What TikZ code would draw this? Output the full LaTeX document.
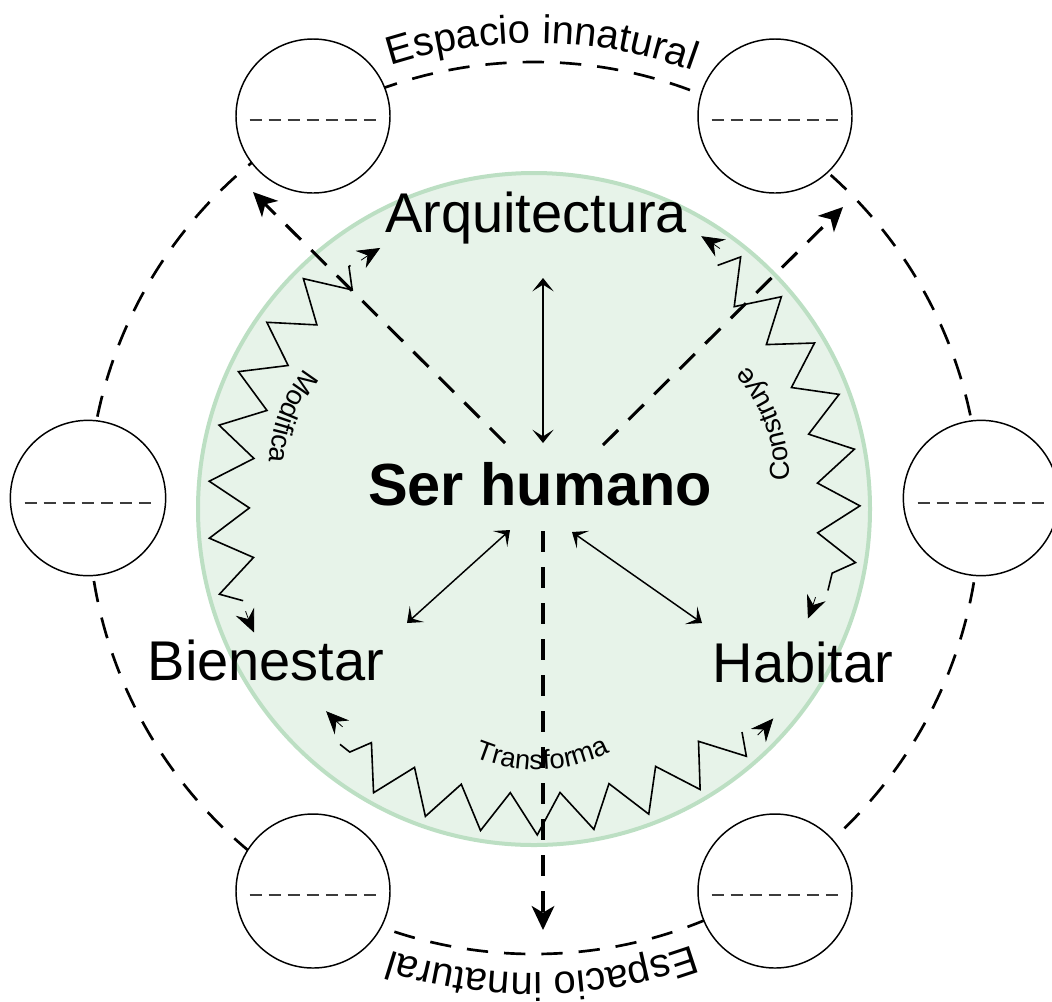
\documentclass[tikz,border=0pt]{standalone}
\usepackage{fontspec}
\setmainfont{Liberation Sans}
\usetikzlibrary{arrows.meta,decorations.pathmorphing,decorations.text}
\definecolor{gfill}{RGB}{231,243,233}
\definecolor{gline}{RGB}{188,223,195}
\definecolor{dgray}{RGB}{60,60,60}
\newcommand{\lblfont}{\fontsize{20.5}{20.5}\selectfont}
\newcommand{\ringfont}{\fontsize{30}{30}\selectfont}
\begin{document}
\begin{tikzpicture}[x=0.75pt,y=-0.75pt,
  bigtext/.style={font=\fontsize{42}{48}\selectfont, anchor=base, inner sep=0pt},
  smallc/.style={circle, draw, line width=1.1pt, fill=white, minimum size=115.5pt, inner sep=0pt},
  innerdash/.style={draw=dgray, line width=1.5pt, dash pattern=on 9pt off 5.3pt},
  ring/.style={line width=2pt, dash pattern=on 16pt off 12pt},
  zz/.style={draw, line width=1.2pt, line join=miter, decorate, decoration={zigzag, amplitude=15.5pt, segment length=40pt}},
  zztip/.style={line width=0.6pt, -{Stealth[length=17pt,width=15pt,inset=6pt]}},
  dasharrow/.style={line width=2.3pt, dash pattern=on 16pt off 11pt, -{Stealth[length=18pt,width=17pt,inset=5pt]}},
  dbl/.style={line width=1.1pt, {Stealth[length=10pt,width=16pt,inset=5pt]}-{Stealth[length=10pt,width=16pt,inset=5pt]}}
]
\useasboundingbox (0,0) rectangle (1052,1001);

% central green disc
\node[circle, draw=gline, fill=gfill, line width=3pt, minimum size=504pt, inner sep=0pt] (disc) at (534,509) {};

% outer dashed ring
\draw[ring] (534,508) circle (446);

% curved ring labels
\path[decorate, decoration={text along path, text={|\ringfont|Espacio innatural}, text align=center}]
  (534,508) ++(-134:465) arc (-134:-44:465);
\path[decorate, decoration={text along path, text={|\ringfont|Espacio innatural}, text align=center}]
  (534,508) ++(44:465) arc (44:134:465);

% small circles
\node[smallc] (c1) at (313,116) {};
\node[smallc] (c2) at (775,116) {};
\node[smallc, minimum size=116.5pt] (c3) at (88,498) {};
\node[smallc, minimum size=116.5pt] (c4) at (981,498) {};
\node[smallc] (c5) at (313,891) {};
\node[smallc] (c6) at (775,891) {};
\foreach \c in {c1,c2,c5,c6}{
  \draw[innerdash] ([xshift=-47.6pt,yshift=-3pt]\c.center) -- ([xshift=47.6pt,yshift=-3pt]\c.center);
}
\foreach \c in {c3,c4}{
  \draw[innerdash] ([xshift=-47.6pt,yshift=-3.8pt]\c.center) -- ([xshift=47.6pt,yshift=-3.8pt]\c.center);
}

% zigzag arcs
\draw[zz] (534,509) ++(162.5:305) arc (162.5:233:305);
\draw[zz] (534,509) ++(-53:305) arc (-53:15.5:305);
\draw[zz] (534,509) ++(47:305) arc (47:129.5:305);

% zigzag arrow tips (arc length equal to tip length)
\draw[zztip] (534,509) ++(235.2:303) arc (235.2:239.5:303);
\draw[zztip] (534,509) ++(160.5:306) arc (160.5:156.2:306);
\draw[zztip] (534,509) ++(-54.5:320) arc (-54.5:-58.5:320);
\draw[zztip] (534,509) ++(17.4:295) arc (17.4:21.8:295);
\draw[zztip] (534,509) ++(131.3:290) arc (131.3:135.8:290);
\draw[zztip] (534,509) ++(45.3:318) arc (45.3:41.2:318);

% curved small labels
\path[decorate, decoration={text along path, text={|\lblfont|Modifica}, text align=center}]
  (429.3,469.2) ++(240.8:160) arc (240.8:160.8:160);
\path[decorate, decoration={text along path, text={|\lblfont|Construye}, text align=center}]
  (628.8,474.3) ++(19.9:160) arc (19.9:-60.1:160);
\path[decorate, decoration={text along path, text={|\lblfont|Transforma}, text align=center}]
  (537.5,609.9) ++(128:160) arc (128:48:160);

% main texts
\node[bigtext] (arq) at (536,232) {Arquitectura};
\node[bigtext, font=\fontsize{44.6}{50}\selectfont\bfseries] (ser) at (540,505) {Ser humano};
\node[bigtext] (bie) at (266,680) {Bienestar};
\node[bigtext] (hab) at (803,682) {Habitar};

% connector end points
\coordinate (sN) at (543,443);
\coordinate (aS) at (543,278);
\coordinate (sSW) at (510,530);
\coordinate (bNE) at (407,623);
\coordinate (sSE) at (572,532);
\coordinate (hNW) at (702,623);
\coordinate (dTL0) at (505,443);
\coordinate (dTL1) at (253,192);
\coordinate (dTR0) at (603,445);
\coordinate (dTR1) at (843,207);
\coordinate (dB0) at (543,531);
\coordinate (dB1) at (543,930);

% dashed arrows
\draw[dasharrow] (dTL0) -- (dTL1);
\draw[dasharrow] (dTR0) -- (dTR1);
\draw[dasharrow] (dB0) -- (dB1);

% solid double arrows
\draw[dbl] (aS) -- (sN);
\draw[dbl] (bNE) -- (sSW);
\draw[dbl] (hNW) -- (sSE);
\end{tikzpicture}
\end{document}
